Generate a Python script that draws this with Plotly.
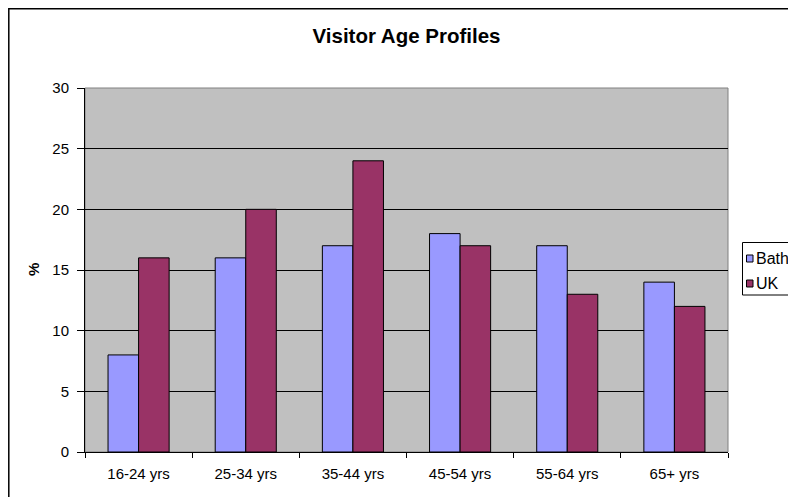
import plotly.graph_objects as go

# Data
categories = ["16-24 yrs", "25-34 yrs", "35-44 yrs", "45-54 yrs", "55-64 yrs", "65+ yrs"]
series = ["Bath", "UK"]
bath = [8, 16, 17, 18, 17, 14]
uk = [16, 20, 24, 17, 13, 12]
colors = ["#9999FF", "#993366"]

fig = go.Figure()
for name, vals, col in zip(series, [bath, uk], colors):
    fig.add_trace(go.Bar(x=categories, y=vals, name=name, showlegend=False,
                         marker=dict(color=col, line=dict(color="#000000", width=1))))

font = "Liberation Sans, Arial, sans-serif"

# page has an 8px body margin, so the figure is a bit smaller than the window
W, H = 788, 489
L, R, T, B = 77, 68, 80, 45
pw, ph = W - L - R, H - T - B


def px(x):  # figure pixel -> paper x
    return (x - L) / pw


def py(y):  # figure pixel -> paper y
    return (H - B - y) / ph


shapes = [
    # plot area frame
    dict(type="rect", xref="paper", yref="paper", x0=0, x1=1, y0=0, y1=1,
         line=dict(color="#808080", width=1), layer="below"),
    # chart frame (right and bottom run off the page)
    dict(type="rect", xref="paper", yref="paper", x0=px(0.8), x1=px(W + 30), y0=py(H + 30), y1=py(0.8),
         line=dict(color="black", width=1.5)),
    # legend box
    dict(type="rect", xref="paper", yref="paper", x0=px(734.5), x1=px(W + 30), y0=py(287), y1=py(234.5),
         line=dict(color="black", width=1), fillcolor="white"),
]
annotations = [
    dict(text="<b>%</b>", xref="paper", yref="paper", x=px(25), y=0.5, textangle=-90,
         showarrow=False, font=dict(size=15), xanchor="center", yanchor="middle"),
]
for i, (name, col) in enumerate(zip(series, colors)):
    cy = 250.5 + i * 25
    shapes.append(dict(type="rect", xref="paper", yref="paper", x0=px(738.5), x1=px(745),
                       y0=py(cy + 3.5), y1=py(cy - 3.5),
                       line=dict(color="black", width=1), fillcolor=col))
    annotations.append(dict(text=name, xref="paper", yref="paper", x=px(746), y=py(cy),
                            xanchor="left", yanchor="middle", showarrow=False,
                            font=dict(size=16)))

fig.update_layout(
    width=W, height=H,
    margin=dict(l=L, r=R, t=T, b=B, autoexpand=False),
    paper_bgcolor="white",
    plot_bgcolor="#C0C0C0",
    font=dict(family=font, size=15, color="black"),
    title=dict(text="<b>Visitor Age Profiles</b>", x=0.5, xref="paper", y=1 - 28 / H,
               yanchor="middle", font=dict(size=20.5)),
    barmode="group",
    bargap=0.43,
    bargroupgap=0,
    showlegend=False,
    xaxis=dict(showline=True, linecolor="black", linewidth=1,
               ticks="outside", tickson="boundaries", ticklen=5, tickcolor="black",
               ticklabelstandoff=8, showgrid=False),
    yaxis=dict(range=[0, 30], dtick=5, showline=True, linecolor="black", linewidth=1,
               ticks="outside", ticklen=7, tickcolor="black", ticklabelstandoff=5,
               showgrid=True, gridcolor="#000000", gridwidth=1, zeroline=False),
    shapes=shapes,
    annotations=annotations,
)

fig.write_html("out.html")
